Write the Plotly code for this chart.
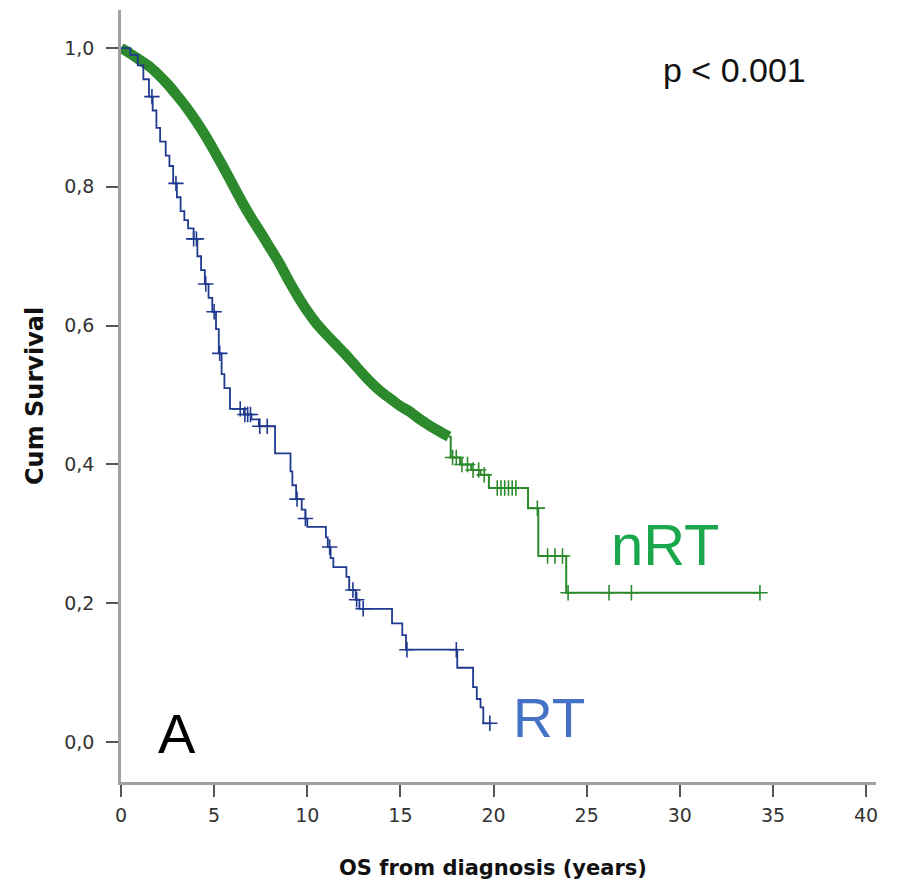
import plotly.graph_objects as go

# Kaplan-Meier estimates (years, cumulative survival)
# nRT: dense part of the curve (many censor marks make it look like a band)
nrt_band_t = [0, 0.5, 1, 1.5, 2, 2.5, 3, 3.5, 4, 4.5, 5, 5.5, 6, 6.5, 7, 7.5, 8,
              8.5, 9, 9.5, 10, 10.5, 11, 11.5, 12, 12.5, 13, 13.5, 14, 14.5,
              15, 15.5, 16, 16.5, 17, 17.6]
nrt_band_s = [1.0, 0.992, 0.983, 0.974, 0.962, 0.948, 0.932, 0.915, 0.896,
              0.875, 0.852, 0.828, 0.803, 0.778, 0.755, 0.734, 0.712, 0.69,
              0.665, 0.642, 0.621, 0.603, 0.588, 0.574, 0.56, 0.545, 0.53,
              0.516, 0.504, 0.494, 0.484, 0.476, 0.466, 0.457, 0.449, 0.44]

# nRT: sparse tail of the curve
nrt_tail_t = [17.6, 17.7, 18.2, 18.8, 19.3, 19.75, 21.85, 22.4, 23.9, 34.3]
nrt_tail_s = [0.44, 0.41, 0.40, 0.392, 0.385, 0.366, 0.337, 0.268, 0.215, 0.215]
nrt_censor_t = [17.8, 18.0, 18.3, 18.6, 18.9, 19.2, 19.5, 20.2, 20.4, 20.6,
                20.8, 21.0, 21.2, 22.35, 22.9, 23.3, 23.7, 24.0, 26.2, 27.4, 34.3]

# RT curve
rt_t = [0, 0.5, 0.9, 1.2, 1.5, 1.7, 1.9, 2.1, 2.4, 2.6, 2.8, 3.0, 3.2, 3.4,
        3.6, 3.9, 4.1, 4.3, 4.5, 4.7, 4.9, 5.1, 5.25, 5.4, 5.55, 5.85, 6.6,
        7.0, 7.4, 8.27, 9.1, 9.2, 9.4, 9.7, 9.9, 10.0, 11.0, 11.1, 11.25,
        11.4, 12.1, 12.25, 12.6, 12.8, 14.55, 15.1, 15.3, 18.05, 18.9, 19.1,
        19.3, 19.45, 19.9]
rt_s = [1.0, 0.99, 0.975, 0.955, 0.93, 0.91, 0.885, 0.865, 0.845, 0.83, 0.805,
        0.785, 0.765, 0.752, 0.74, 0.725, 0.70, 0.68, 0.66, 0.64, 0.62, 0.595,
        0.56, 0.53, 0.51, 0.48, 0.472, 0.465, 0.455, 0.416, 0.39, 0.37, 0.35,
        0.335, 0.322, 0.31, 0.295, 0.281, 0.265, 0.252, 0.238, 0.219, 0.205,
        0.192, 0.171, 0.154, 0.133, 0.107, 0.079, 0.062, 0.05, 0.027, 0.027]
rt_censor_t = [1.66, 2.95, 3.9, 4.05, 4.55, 5.0, 5.3, 6.4, 6.65, 6.8, 6.95,
               7.45, 7.85, 9.45, 9.9, 11.2, 12.45, 12.65, 13.0, 15.35, 18.0, 19.8]

x_ticks = [0, 5, 10, 15, 20, 25, 30, 35, 40]
y_ticks = [0.0, 0.2, 0.4, 0.6, 0.8, 1.0]
y_tick_labels = ["0,0", "0,2", "0,4", "0,6", "0,8", "1,0"]

FONT = "Liberation Sans, Arial, sans-serif"
AXFONT = "DejaVu Sans, Arial, sans-serif"
GREEN = "#2c8a2c"
BLUE = "#1f3a8f"


def surv_at(t, times, vals):
    # value of the step function at time t
    s = vals[0]
    for tt, v in zip(times, vals):
        if tt <= t:
            s = v
    return s


fig = go.Figure()

# nRT dense band
fig.add_trace(go.Scatter(
    x=nrt_band_t, y=nrt_band_s, mode="lines",
    line=dict(color=GREEN, width=10.5, shape="spline", smoothing=0.6),
    showlegend=False,
))
# nRT tail
fig.add_trace(go.Scatter(
    x=nrt_tail_t, y=nrt_tail_s, mode="lines",
    line=dict(color=GREEN, width=2, shape="hv"), showlegend=False,
))
fig.add_trace(go.Scatter(
    x=nrt_censor_t, y=[surv_at(t, nrt_tail_t, nrt_tail_s) for t in nrt_censor_t],
    mode="markers",
    marker=dict(symbol="cross-thin", size=11, line=dict(color=GREEN, width=1.6)),
    showlegend=False,
))

# RT
fig.add_trace(go.Scatter(
    x=rt_t, y=rt_s, mode="lines",
    line=dict(color=BLUE, width=1.8, shape="hv"), showlegend=False,
))
fig.add_trace(go.Scatter(
    x=rt_censor_t, y=[surv_at(t, rt_t, rt_s) for t in rt_censor_t],
    mode="markers",
    marker=dict(symbol="cross-thin", size=11, line=dict(color=BLUE, width=1.6)),
    showlegend=False,
))

# text labels inside the plot
fig.add_annotation(x=32.96, y=0.968, text="p < 0.001", showarrow=False,
                   font=dict(family=FONT, size=34, color="#111111"))
fig.add_annotation(x=29.25, y=0.284, text="nRT", showarrow=False,
                   font=dict(family=FONT, size=58, color="#1aa64a"))
fig.add_annotation(x=23.0, y=0.035, text="RT", showarrow=False,
                   font=dict(family=FONT, size=55, color="#4472c4"))
fig.add_annotation(x=3.0, y=0.012, text="A", showarrow=False,
                   font=dict(family=FONT, size=56, color="#000000"))

# axis titles
fig.add_annotation(x=0, y=0.5, xref="paper", yref="paper", xshift=-86,
                   xanchor="center", yanchor="middle",
                   text="<b>Cum Survival</b>", textangle=-90, showarrow=False,
                   font=dict(family=AXFONT, size=24, color="#111111"))
fig.add_annotation(x=0.493, y=0, xref="paper", yref="paper", yshift=-86,
                   xanchor="center", yanchor="middle",
                   text="<b>OS from diagnosis (years)</b>", showarrow=False,
                   font=dict(family=AXFONT, size=21, color="#111111"))

fig.update_xaxes(
    range=[0, 40.53], tickvals=x_ticks, showgrid=False, zeroline=False,
    showline=True, linecolor="#a0a0a0", linewidth=2.5,
    ticks="outside", ticklen=12, tickwidth=2, tickcolor="#555555",
    ticklabelstandoff=2,
    tickfont=dict(family=AXFONT, size=19, color="#333333"),
)
fig.update_yaxes(
    range=[-0.0576, 1.0548], tickvals=y_ticks, ticktext=y_tick_labels,
    showgrid=False, zeroline=False,
    showline=True, linecolor="#a0a0a0", linewidth=2.5,
    ticks="outside", ticklen=12, tickwidth=2, tickcolor="#555555",
    ticklabelstandoff=8,
    tickfont=dict(family=AXFONT, size=19, color="#333333"),
)

# page body has an 8px margin, so the figure is shrunk by that much
fig.update_layout(
    width=897, height=875, autosize=False,
    margin=dict(l=113, r=29, t=2, b=101),
    paper_bgcolor="white", plot_bgcolor="white",
    showlegend=False,
)

fig.write_html("out.html")
